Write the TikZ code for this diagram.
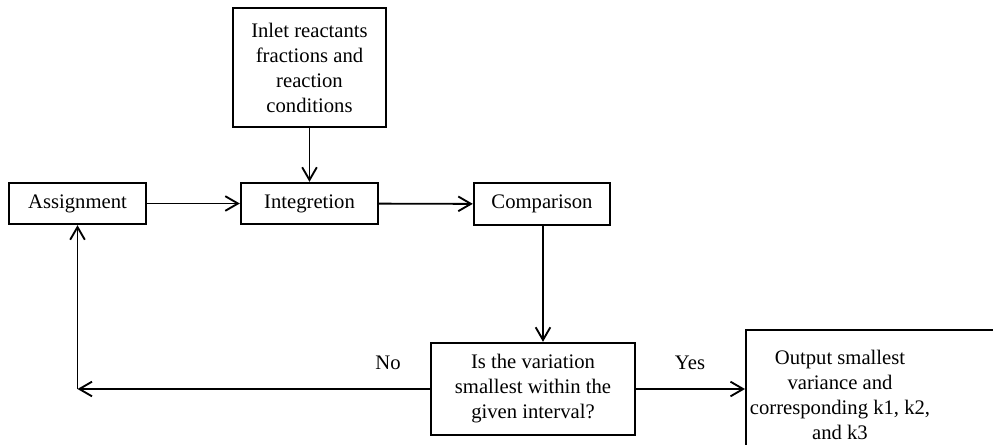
\documentclass[tikz,border=0pt]{standalone}
\usepackage{fontspec}
\setmainfont{Liberation Serif}
\usetikzlibrary{arrows.meta}

\tikzset{
	box/.style={draw, line width=1.8pt, inner sep=0pt, align=center,
			font=\fontsize{15.5}{18.75}\selectfont},
	txt/.style={inner sep=0pt, align=center, font=\fontsize{15.5}{18.75}\selectfont},
	arr/.style={line width=1.4pt, -{Straight Barb[length=9.5pt, width=11pt, line width=1.4pt]}}
}

\begin{document}
\begin{tikzpicture}[x=0.75pt, y=-0.75pt]
			\def\px{0.75pt}

			% Frame
			\useasboundingbox (0, 0) rectangle (993, 444);
			\clip (0, 0) rectangle (993, 444);

			% Boxes
			\node[box, minimum width=137*\px, minimum height=41*\px] (assign) at (77.5, 203.5) {Assignment};
			\node[box, minimum width=137*\px, minimum height=41*\px] (integ) at (309.5, 203.5) {Integretion};
			\node[box, minimum width=153*\px, minimum height=119*\px] (inlet) at (309.5, 67.5) {Inlet reactants\\fractions and\\reaction\\conditions};
			\node[box, minimum width=136*\px, minimum height=42*\px] (compar) at (542, 204) {Comparison};
			\node[box, minimum width=204*\px, minimum height=92*\px] (decide) at (533, 389) {Is the variation\\smallest within the\\given interval?};

			% Output box runs off the page
			\node[box, anchor=north west, minimum width=300*\px, minimum height=150*\px] (output) at (745, 329) {};
			\node[txt] (outtxt) at (840, 395) {Output smallest\\variance and\\corresponding k1, k2,\\and k3};

			% Labels
			\node[txt] (lblno) at (388, 363) {No};
			\node[txt] (lblyes) at (690, 363) {Yes};

			% Arrows
			\draw[arr] (inlet) -- (integ);
			\draw[arr] (assign) -- (integ);
			\draw[arr] (integ) -- (compar);
			\draw[arr] ([xshift=1*\px]compar.south) -- ([xshift=1*\px]compar.south |- decide.north);
			\draw[arr] (decide.east) -- (decide.east -| output.west);

			% Back to assignment
			\coordinate (bend) at (assign.south |- decide.west);
			\draw[arr] (decide.west) -- (bend);
			\draw[arr] (bend) -- (assign.south);

		\end{tikzpicture}
\end{document}
